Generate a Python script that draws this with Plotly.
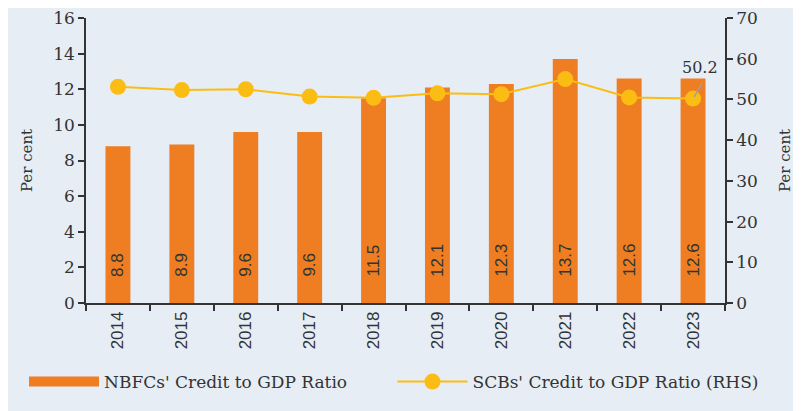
import plotly.graph_objects as go

years = ["2014", "2015", "2016", "2017", "2018", "2019", "2020", "2021", "2022", "2023"]
nbfc_ratio = [8.8, 8.9, 9.6, 9.6, 11.5, 12.1, 12.3, 13.7, 12.6, 12.6]
scb_ratio = [53.1, 52.3, 52.5, 50.7, 50.4, 51.5, 51.3, 55.0, 50.5, 50.2]

bg = "#e6edf4"
ink = "#333333"
serif = "DejaVu Serif"
orange = "#ef7d22"
yellow = "#fbbd13"

fig = go.Figure()
fig.add_trace(
    go.Bar(
        x=years,
        y=nbfc_ratio,
        name="NBFCs' Credit to GDP Ratio",
        marker=dict(color=orange, line=dict(width=0)),
        width=0.39,
        showlegend=False,
    )
)
# legend stand-in so the key shows a wide bar swatch
fig.add_trace(
    go.Scatter(
        x=[None], y=[None], mode="lines",
        name="NBFCs' Credit to GDP Ratio",
        line=dict(color=orange, width=12),
        legend="legend",
    )
)
fig.add_trace(
    go.Scatter(
        x=years,
        y=scb_ratio,
        name="SCBs' Credit to GDP Ratio (RHS)",
        mode="lines+markers",
        line=dict(color=yellow, width=2),
        marker=dict(color=yellow, size=16),
        yaxis="y2",
        legend="legend2",
    )
)

# vertical value labels sitting low inside each bar
for i, v in enumerate(nbfc_ratio):
    fig.add_annotation(
        x=i, y=1.35, xref="x", yref="y",
        text=f"{v:.1f}", showarrow=False, textangle=-90,
        yanchor="bottom",
        font=dict(family="Liberation Sans", size=17, color=ink),
    )

# callout for the last SCB value
last = len(years) - 1
fig.add_annotation(
    x=last, y=scb_ratio[-1], xref="x", yref="y2",
    text="", showarrow=True, arrowhead=0, arrowcolor="#a0a0a0",
    arrowwidth=1.5, ax=10, ay=-17, standoff=2,
)
fig.add_annotation(
    x=last, y=scb_ratio[-1], xref="x", yref="y2",
    text=f"{scb_ratio[-1]:.1f}", showarrow=False, xshift=7, yshift=31,
    font=dict(family=serif, size=16, color=ink),
)

axis_style = dict(
    ticks="outside", ticklen=6, tickcolor=ink, tickwidth=1.5,
    showline=True, linecolor=ink, linewidth=1.5,
    showgrid=False, zeroline=False, automargin=False,
    ticklabeloverflow="allow",
)
legend_style = dict(
    orientation="h", xref="container", xanchor="left",
    yref="container", y=0.09, yanchor="middle",
    font=dict(family=serif, size=17, color=ink),
    itemwidth=70, bgcolor="rgba(0,0,0,0)",
)

fig.update_layout(
    width=801,
    height=411,
    margin=dict(l=78, r=84, t=10, b=116),
    paper_bgcolor=bg,
    plot_bgcolor=bg,
    showlegend=True,
    legend=dict(x=0.02, **legend_style),
    legend2=dict(x=0.48, **legend_style),
    xaxis=dict(
        type="category",
        range=[-0.5, 9.5],
        tickangle=-90,
        tickson="boundaries",
        tickfont=dict(family="Liberation Sans", size=17, color=ink),
        **axis_style,
    ),
    yaxis=dict(
        range=[0, 16], dtick=2,
        tickfont=dict(family=serif, size=17, color=ink),
        title=dict(text="Per cent", font=dict(family=serif, size=15, color=ink), standoff=17),
        **axis_style,
    ),
    yaxis2=dict(
        range=[0, 70], dtick=10,
        overlaying="y", side="right",
        tickfont=dict(family=serif, size=17, color=ink),
        title=dict(text="Per cent", font=dict(family=serif, size=15, color=ink), standoff=23),
        **axis_style,
    ),
)

fig.write_html("out.html")
